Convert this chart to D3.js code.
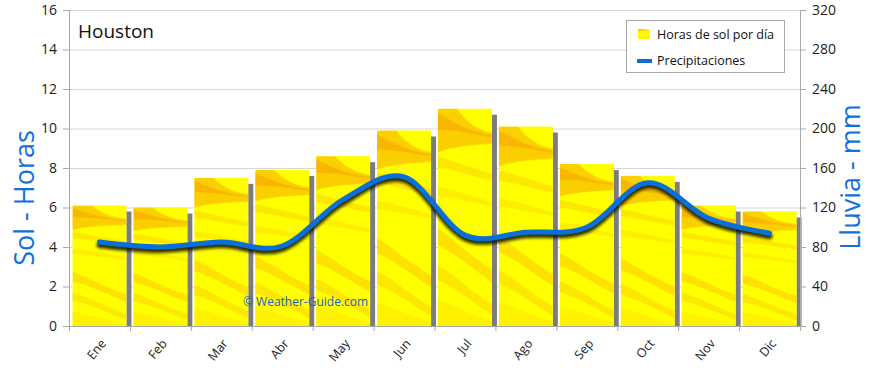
<!DOCTYPE html>
<html>
<head>
<meta charset="utf-8">
<script src="https://cdn.jsdelivr.net/npm/d3@7/dist/d3.min.js"></script>
<style>
  html, body { margin: 0; padding: 0; background: #fff; }
  svg { display: block; font-family: "Open Sans", "DejaVu Sans", sans-serif; }
</style>
</head>
<body>
<svg id="chart" width="870" height="368"></svg>
<script>
const months = ["Ene","Feb","Mar","Abr","May","Jun","Jul","Ago","Sep","Oct","Nov","Dic"];
const sunHours = [6.1, 6.0, 7.5, 7.9, 8.6, 9.9, 11.0, 10.1, 8.2, 7.6, 6.1, 5.8];
const rainMm = [85, 80, 85, 81, 128, 151, 92, 95, 100, 145, 109, 94];
const leftTicks = [0, 2, 4, 6, 8, 10, 12, 14, 16];
const rightTicks = [0, 40, 80, 120, 160, 200, 240, 280, 320];
const title = "Houston";
const legendLabels = ["Horas de sol por día", "Precipitaciones"];
const leftTitle = "Sol - Horas";
const rightTitle = "Lluvia - mm";
const watermark = "© Weather-Guide.com";

const L = 69, R = 800, T = 10, B = 326;
const svg = d3.select("#chart");
const defs = svg.append("defs");

// texture pattern for bars
const pat = defs.append("pattern").attr("id", "tex")
  .attr("patternUnits", "objectBoundingBox").attr("patternContentUnits", "objectBoundingBox")
  .attr("width", 1).attr("height", 1);
pat.append("rect").attr("width", 1).attr("height", 1).attr("fill", "#ffff00");
const streaks = [
  ["M0,0.02 C0.25,0.05 0.45,0.1 1,0.12 L1,0.16 C0.6,0.17 0.3,0.17 0,0.2 Z", "#f7a600", 0.55],
  ["M0,0 L0.35,0 C0.5,0.05 0.7,0.1 1,0.11 L1,0.13 C0.6,0.12 0.3,0.09 0,0.1 Z", "#f59a00", 0.45],
  ["M0,0.22 C0.3,0.24 0.6,0.27 1,0.3 L1,0.33 C0.6,0.31 0.3,0.28 0,0.27 Z", "#f8b000", 0.3],
  ["M0,0.36 C0.3,0.37 0.6,0.4 1,0.43 L1,0.45 C0.6,0.43 0.3,0.41 0,0.4 Z", "#f8b800", 0.25],
  ["M0,0.55 C0.3,0.6 0.6,0.68 1,0.74 L1,0.8 C0.6,0.73 0.3,0.66 0,0.63 Z", "#f8a800", 0.35],
  ["M0,0.72 C0.3,0.76 0.6,0.84 1,0.9 L1,0.95 C0.6,0.88 0.3,0.82 0,0.79 Z", "#f8b000", 0.3],
  ["M0,0.88 C0.3,0.9 0.6,0.95 1,0.98 L1,1 L0,1 Z", "#f8c000", 0.2]
];
streaks.forEach(s => pat.append("path").attr("d", s[0]).attr("fill", s[1]).attr("opacity", s[2]));

const blur = defs.append("filter").attr("id", "blur").attr("x", "-10%").attr("y", "-20%").attr("width", "120%").attr("height", "140%");
blur.append("feGaussianBlur").attr("stdDeviation", 1.6);
const blurS = defs.append("filter").attr("id", "blurS").attr("x", "-50%").attr("y", "-5%").attr("width", "200%").attr("height", "110%");
blurS.append("feGaussianBlur").attr("stdDeviation", 0.5);

const x = d3.scaleBand().domain(months).range([L, R]).paddingInner(0.114).paddingOuter(0.057);
const xi = d3.scaleLinear().domain([0, months.length]).range([L, R]);
const yL = d3.scaleLinear().domain([0, 16]).range([B, T]);
const yR = d3.scaleLinear().domain([0, 320]).range([B, T]);

// gridlines
svg.append("g").selectAll("line").data(leftTicks.filter(d => d > 0)).join("line")
  .attr("x1", L).attr("x2", R).attr("y1", d => yL(d) + 0.5).attr("y2", d => yL(d) + 0.5)
  .attr("stroke", "#d6d6d6").attr("stroke-width", 1);

// bar shadows
svg.append("g").selectAll("rect").data(sunHours).join("rect")
  .attr("x", (d, i) => x(months[i]) + x.bandwidth())
  .attr("y", d => yL(d) + 6)
  .attr("width", 5)
  .attr("height", d => B - yL(d) - 6)
  .attr("fill", "#7c7c7c").attr("filter", "url(#blurS)");

// bars
svg.append("g").selectAll("rect").data(sunHours).join("rect")
  .attr("x", (d, i) => x(months[i]))
  .attr("y", d => yL(d))
  .attr("width", x.bandwidth())
  .attr("height", d => B - yL(d))
  .attr("fill", "url(#tex)");

// axes lines
const axisColor = "#a8a8a8";
svg.append("line").attr("x1", L + 0.5).attr("x2", L + 0.5).attr("y1", T).attr("y2", B).attr("stroke", axisColor);
svg.append("line").attr("x1", R + 0.5).attr("x2", R + 0.5).attr("y1", T).attr("y2", B).attr("stroke", axisColor);
svg.append("line").attr("x1", L).attr("x2", R).attr("y1", B + 0.5).attr("y2", B + 0.5).attr("stroke", axisColor);

// left ticks
const lt = svg.append("g");
lt.selectAll("line").data(leftTicks).join("line")
  .attr("x1", L - 6).attr("x2", L).attr("y1", d => yL(d) + 0.5).attr("y2", d => yL(d) + 0.5).attr("stroke", axisColor);
lt.selectAll("text").data(leftTicks).join("text")
  .attr("x", L - 12).attr("y", d => yL(d)).attr("dy", "0.35em")
  .attr("text-anchor", "end").attr("font-size", 14).attr("fill", "#222").text(d => d);

// right ticks
const rt = svg.append("g");
rt.selectAll("line").data(rightTicks).join("line")
  .attr("x1", R).attr("x2", R + 6).attr("y1", d => yR(d) + 0.5).attr("y2", d => yR(d) + 0.5).attr("stroke", axisColor);
rt.selectAll("text").data(rightTicks).join("text")
  .attr("x", R + 12).attr("y", d => yR(d)).attr("dy", "0.35em")
  .attr("text-anchor", "start").attr("font-size", 14).attr("fill", "#222").text(d => d);

// bottom ticks at band boundaries
svg.append("g").selectAll("line").data(d3.range(months.length + 1)).join("line")
  .attr("x1", i => xi(i) + 0.5).attr("x2", i => xi(i) + 0.5).attr("y1", B).attr("y2", B + 5).attr("stroke", axisColor);
svg.append("g").selectAll("text").data(months).join("text")
  .attr("transform", m => `translate(${x(m) + x.bandwidth() / 2 + 4},${B + 15}) rotate(-50)`)
  .attr("text-anchor", "end").attr("dy", "0.35em").attr("font-size", 12.5).attr("fill", "#222").text(m => m);

// line
const line = d3.line().x((d, i) => x(months[i]) + x.bandwidth() / 2).y(d => yR(d)).curve(d3.curveCardinal.tension(0));
svg.append("path").datum(rainMm).attr("d", line).attr("transform", "translate(0,3)")
  .attr("fill", "none").attr("stroke", "#111100").attr("stroke-width", 6).attr("opacity", 0.85)
  .attr("stroke-linecap", "round").attr("filter", "url(#blur)");
svg.append("path").datum(rainMm).attr("d", line)
  .attr("fill", "none").attr("stroke", "#0a6fd8").attr("stroke-width", 5).attr("stroke-linecap", "round");

// title
svg.append("text").attr("x", 78).attr("y", 38).attr("font-size", 19).attr("fill", "#111").text(title);

// axis titles
svg.append("text").attr("transform", `translate(34,198) rotate(-90)`).attr("text-anchor", "middle")
  .attr("font-size", 27).attr("fill", "#1170dc").text(leftTitle);
svg.append("text").attr("transform", `translate(860,177) rotate(-90)`).attr("text-anchor", "middle")
  .attr("font-size", 27).attr("fill", "#1170dc").text(rightTitle);

// watermark
svg.append("text").attr("x", 243).attr("y", 306).attr("font-size", 12).attr("fill", "#1a5fd0").text(watermark);

// legend
const lg = svg.append("g");
lg.append("rect").attr("x", 626.5).attr("y", 20.5).attr("width", 158).attr("height", 52)
  .attr("fill", "#fff").attr("stroke", "#a8a8a8");
lg.append("rect").attr("x", 638).attr("y", 29).attr("width", 12).attr("height", 10).attr("fill", "url(#tex)");
lg.append("text").attr("x", 657).attr("y", 35).attr("dy", "0.35em").attr("font-size", 12.5).attr("fill", "#111").text(legendLabels[0]);
lg.append("line").attr("x1", 637).attr("x2", 652).attr("y1", 61).attr("y2", 61).attr("stroke", "#0a6fd8").attr("stroke-width", 4);
lg.append("text").attr("x", 657).attr("y", 61).attr("dy", "0.35em").attr("font-size", 12.5).attr("fill", "#111").text(legendLabels[1]);
</script>
</body>
</html>
